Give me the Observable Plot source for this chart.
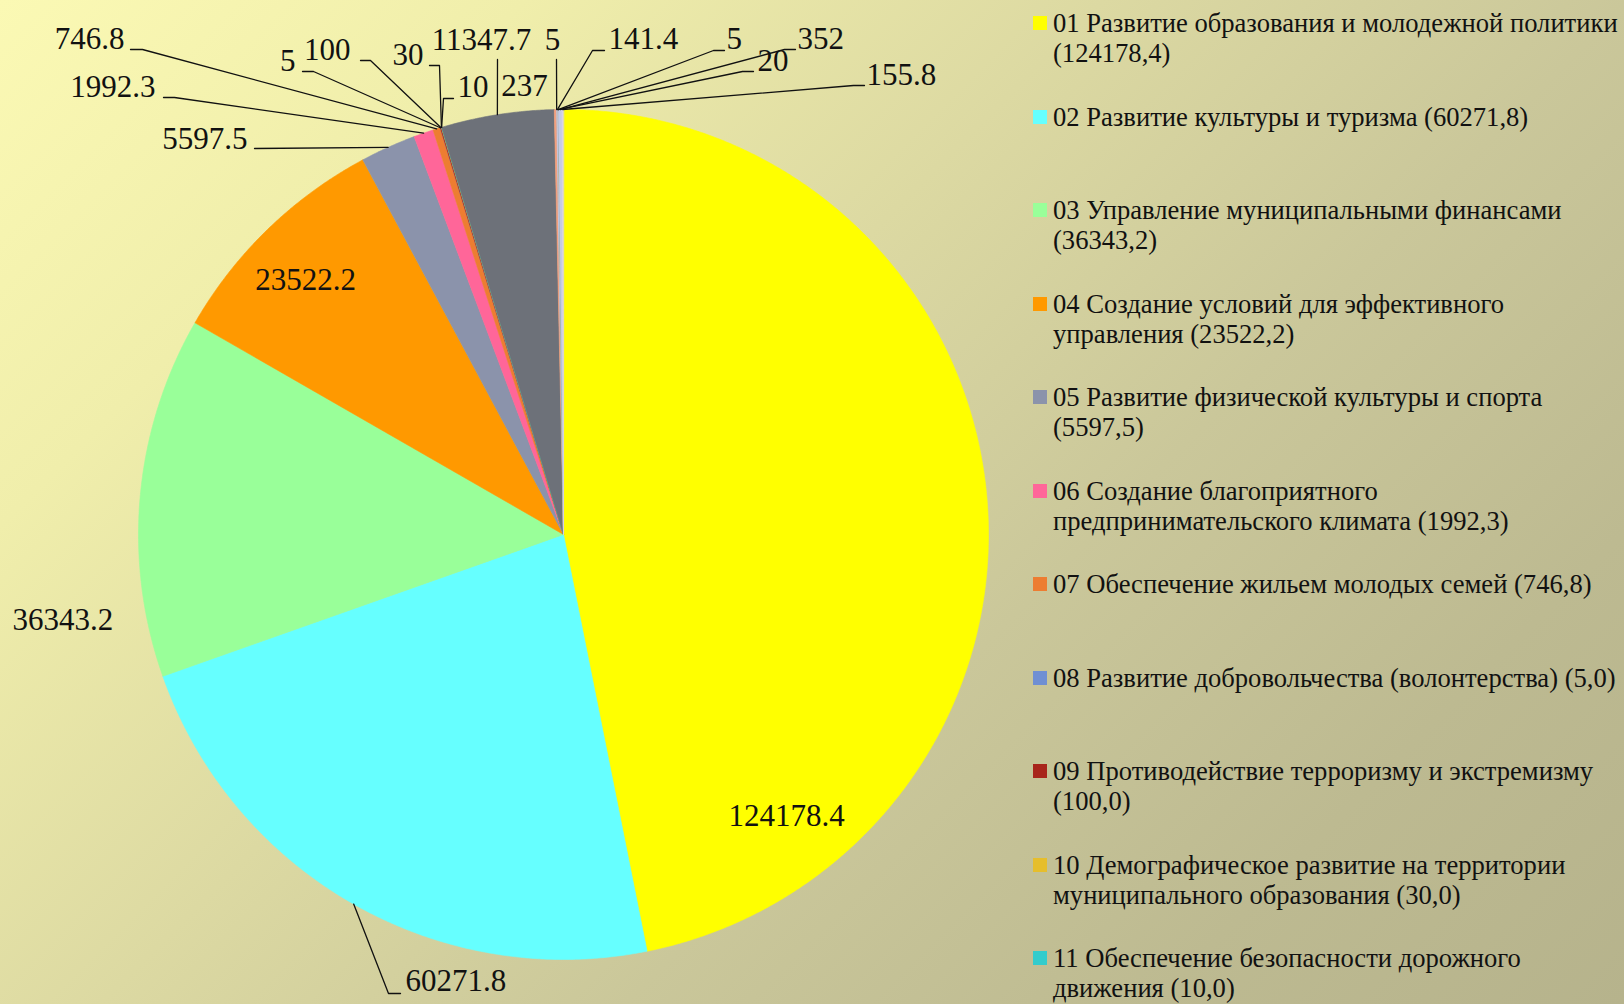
<!DOCTYPE html>
<html><head><meta charset="utf-8">
<script src="https://cdn.jsdelivr.net/npm/d3@7"></script>
<script src="https://cdn.jsdelivr.net/npm/@observablehq/plot@0.6"></script>
<style>
html,body{margin:0;padding:0;width:1624px;height:1004px;overflow:hidden;}
body{position:relative;font-family:"Liberation Serif",serif;
 background:linear-gradient(135deg,#fbf9b4 0%,#f0eeab 20%,#dcd9a2 42%,#cac79a 62%,#bdba91 82%,#b6b38c 100%);}
#chart{position:absolute;left:0;top:0;}
#legend{position:absolute;left:1033px;top:8px;}
.item{height:93.5px;position:relative;}
.sw{position:absolute;left:0;top:8px;width:14px;height:14px;}
.txt{position:absolute;left:20px;top:0;font-size:26.6px;line-height:30px;white-space:nowrap;color:#111;}
</style></head><body>
<div id="chart"></div><div id="legend"></div>
<script>
// ---- data ----
const codes = ["01","02","03","04","05","06","07","08","09","10","11","12","13","14","15","16","17","18","19"];
const names = [
  "Развитие образования и молодежной политики",
  "Развитие культуры и туризма",
  "Управление муниципальными финансами",
  "Создание условий для эффективного управления",
  "Развитие физической культуры и спорта",
  "Создание благоприятного предпринимательского климата",
  "Обеспечение жильем молодых семей",
  "Развитие добровольчества (волонтерства)",
  "Противодействие терроризму и экстремизму",
  "Демографическое развитие на территории муниципального образования",
  "Обеспечение безопасности дорожного движения",
  null, null, null, null, null, null, null, null
];
const values = [124178.4, 60271.8, 36343.2, 23522.2, 5597.5, 1992.3, 746.8, 5, 100, 30, 10,
                11347.7, 237, 5, 141.4, 5, 20, 352, 155.8];
const colors = ["#ffff00","#66ffff","#99ff99","#ff9900","#8b93ab","#ff6699","#ed7d31","#6f8fd3",
                "#a8251b","#e6be2c","#33cccc","#6d7179","#f4a07e","#a5a5a5","#c9c9e6","#ffc000",
                "#5b9bd5","#c5cbe5","#d9d2e9"];
const legendFirstLineWords = [6, 0, 4, 5, 6, 3, 0, 0, 5, 5, 4];

// ---- layout (pixels relative to pie centre) ----
const W = 1624, H = 1004, cx = 563, cy = 534, R = 425;
const labelAnchor = ["middle","start","start","middle","end","end","end","end","end","end","start",
                     "middle","middle","middle","start","start","start","start","start"];
const labelOffset = [[223,282],[-158,447],[-551,86],[-258,-254],[-316,-395],[-408,-447],[-439,-495],
  [-268,-473],[-213,-484],[-140,-479],[-106,-447],[-82,-494],[-39,-448],[-11,-494],[45,-495],
  [163,-495],[194,-473],[234,-495],[303,-459]];
const leaderPath = [null, [[-175,459],[-163,459]], null, null, [[-309,-386]],
  [[-389,-437],[-400,-437]], [[-421,-485],[-433,-485]], [[-250,-463],[-261,-463]],
  [[-193,-474],[-203,-474]], [[-124,-469],[-134,-469]], [[-120,-436],[-110,-436]],
  [[-66,-475]], null, [[-7,-475]], [[29,-484],[41,-484]], [[150,-484],[161,-484]],
  [[179,-463],[190,-463]], [[221,-485],[232,-485]], [[290,-449],[301,-449]]];

// ---- geometry from data ----
const arcs = d3.pie().sort(null).value(d => d)(values);
const slicePts = [];
arcs.forEach((a, i) => {
  slicePts.push({code: codes[i], x: 0, y: 0});
  const n = Math.max(2, Math.ceil((a.endAngle - a.startAngle) / 0.005));
  for (let k = 0; k <= n; k++) {
    const t = a.startAngle + (a.endAngle - a.startAngle) * k / n;
    slicePts.push({code: codes[i], x: Math.sin(t), y: Math.cos(t)});
  }
});
const leaderPts = [];
arcs.forEach((a, i) => {
  if (!leaderPath[i]) return;
  const m = (a.startAngle + a.endAngle) / 2;
  leaderPts.push({code: codes[i], x: Math.sin(m), y: Math.cos(m)});
  leaderPath[i].forEach(([dx, dy]) => leaderPts.push({code: codes[i], x: dx / R, y: -dy / R}));
});
const labels = values.map((v, i) => ({code: codes[i], text: String(v), anchor: labelAnchor[i],
  x: labelOffset[i][0] / R, y: -labelOffset[i][1] / R}));

const textMark = anchor => Plot.text(labels.filter(d => d.anchor === anchor), {
  x: "x", y: "y", text: "text", textAnchor: anchor, fill: "#111",
  fontSize: 31, fontFamily: "Liberation Serif"});

const chart = Plot.plot({
  width: W, height: H, margin: 0,
  style: {background: "transparent", overflow: "visible"},
  x: {domain: [-cx / R, (W - cx) / R], axis: null},
  y: {domain: [(cy - H) / R, cy / R], axis: null},
  color: {domain: codes, range: colors},
  marks: [
    Plot.line(slicePts, {x: "x", y: "y", z: "code", fill: "code", stroke: "code", strokeWidth: 0.6, curve: "linear-closed"}),
    Plot.line(leaderPts, {x: "x", y: "y", z: "code", stroke: "#111", strokeWidth: 1.3}),
    textMark("start"), textMark("middle"), textMark("end")
  ]
});
document.getElementById("chart").appendChild(chart);

// ---- legend ----
const fmt = v => d3.format(".1f")(v).replace(".", ",");
const leg = d3.select("#legend");
names.forEach((nm, i) => {
  if (!nm) return;
  const words = `${codes[i]} ${nm} (${fmt(values[i])})`.split(" ");
  const k = legendFirstLineWords[i];
  const lines = k ? [words.slice(0, k).join(" "), words.slice(k).join(" ")] : [words.join(" ")];
  const it = leg.append("div").attr("class", "item");
  it.append("div").attr("class", "sw").style("background", colors[i]);
  it.append("div").attr("class", "txt").html(lines.join("<br>"));
});
</script>
</body></html>
